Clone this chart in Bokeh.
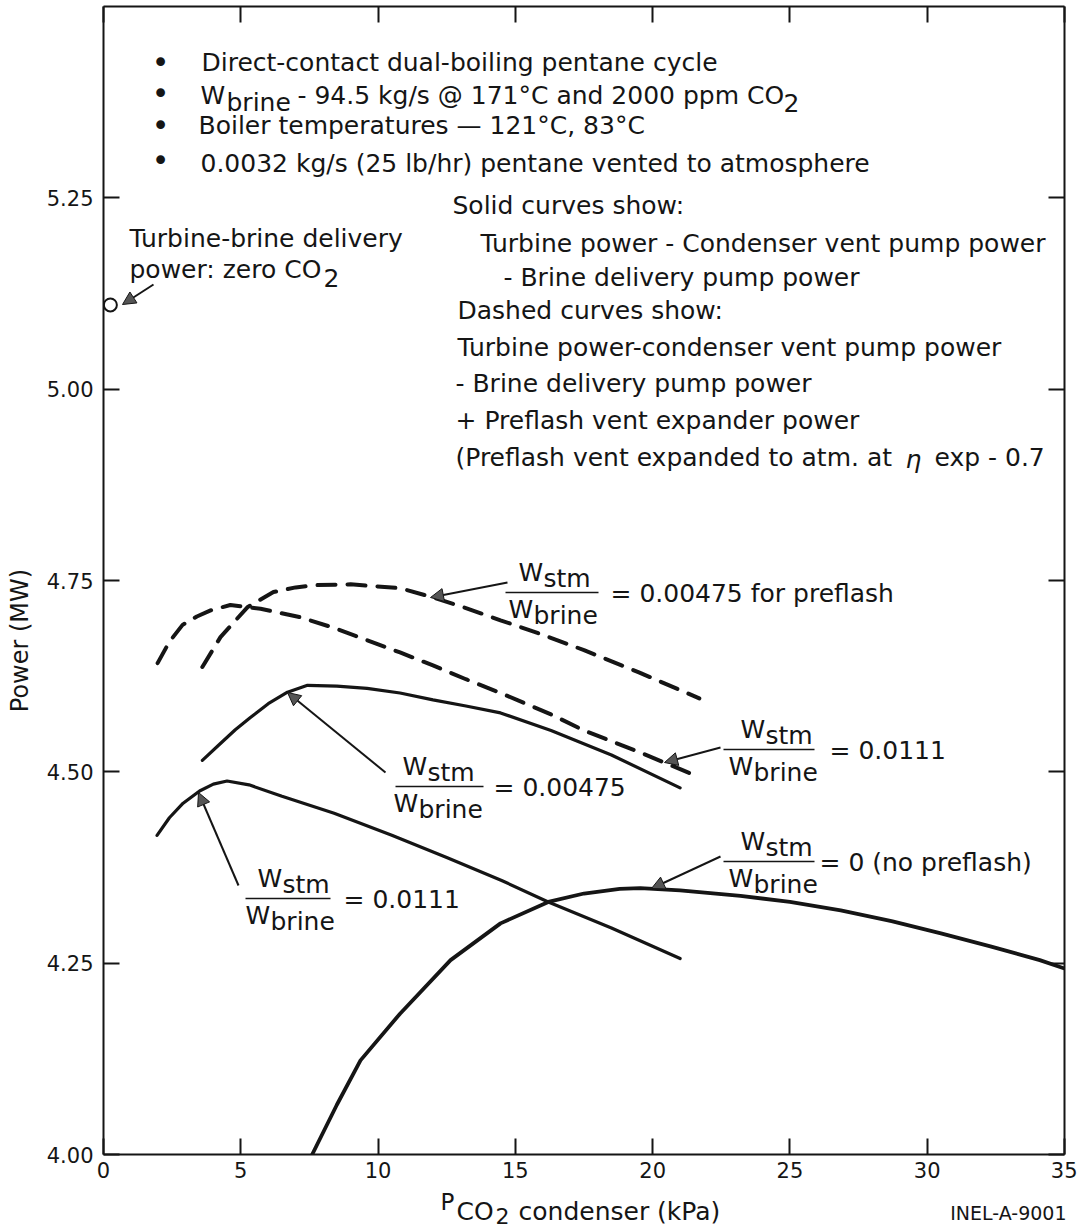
import math
from bokeh.plotting import figure
from bokeh.layouts import row, column
from bokeh.models import Range1d, LinearAxis, Label, Arrow, NormalHead, FixedTicker, PrintfTickFormatter
from bokeh.embed import file_html
from bokeh.resources import INLINE

# ---------------- data ----------------
x_ticks = [0, 5, 10, 15, 20, 25, 30, 35]
y_ticks = [4.00, 4.25, 4.50, 4.75, 5.00, 5.25]

# solid: W_stm/W_brine = 0.0111
sol_0111_x = [1.95, 2.4, 2.9, 3.5, 4.0, 4.5, 5.3, 6.5, 8.4, 10.5, 12.5, 14.5, 16.2, 18.5, 21.0]
sol_0111_y = [4.417, 4.440, 4.459, 4.475, 4.484, 4.488, 4.483, 4.468, 4.446, 4.417, 4.388, 4.358, 4.330, 4.296, 4.256]

# solid: W_stm/W_brine = 0 (no preflash)
sol_0_x = [7.6, 8.5, 9.36, 10.8, 12.64, 14.46, 16.2, 17.5, 18.8, 19.55, 21.0, 23.2, 25.0, 26.85, 28.7, 30.5, 32.3, 34.1, 35.0]
sol_0_y = [4.0, 4.065, 4.123, 4.184, 4.254, 4.302, 4.330, 4.341, 4.347, 4.348, 4.345, 4.338, 4.330, 4.319, 4.305, 4.289, 4.272, 4.254, 4.243]

# solid: W_stm/W_brine = 0.00475
sol_00475_x = [3.6, 4.2, 4.8, 5.35, 6.0, 6.7, 7.43, 8.5, 9.6, 10.8, 12.0, 13.2, 14.46, 16.3, 18.5, 21.0]
sol_00475_y = [4.515, 4.535, 4.555, 4.571, 4.589, 4.604, 4.613, 4.612, 4.609, 4.603, 4.594, 4.586, 4.577, 4.554, 4.522, 4.479]

# dashed: W_stm/W_brine = 0.0111 (with preflash expander)
dash_0111_x = [1.97, 2.4, 2.88, 3.4, 3.9, 4.62, 5.72, 7.17, 8.4, 9.6, 10.8, 12.0, 13.2, 14.46, 16.3, 17.5, 19.5, 21.7]
dash_0111_y = [4.642, 4.670, 4.692, 4.703, 4.711, 4.718, 4.713, 4.702, 4.688, 4.672, 4.656, 4.639, 4.621, 4.603, 4.575, 4.554, 4.526, 4.493]

# dashed: W_stm/W_brine = 0.00475 for preflash
dash_00475_x = [3.6, 4.26, 5.24, 6.19, 7.0, 7.79, 9.0, 10.8, 12.0, 13.2, 14.46, 16.0, 17.5, 19.5, 21.7]
dash_00475_y = [4.637, 4.676, 4.715, 4.735, 4.741, 4.744, 4.745, 4.740, 4.728, 4.714, 4.698, 4.679, 4.659, 4.630, 4.596]

# turbine-brine delivery power, zero CO2
zero_co2_x = [0.25]
zero_co2_y = [5.11]

# ---------------- layout ----------------
W, H = 1077, 1230
STRIP_W = 40          # left strip holding the y title
MAIN_H = 1186         # main figure height; bottom strip holds the x title
FL, FR, FT, FB = 103, 1064, 6, 1154   # frame edges in page pixels
XMIN, XMAX, YMIN, YMAX = 0, 35, 4.0, 5.5

def X(px):
    return XMIN + (px - FL) / (FR - FL) * (XMAX - XMIN)

def Y(py):
    return YMIN + (FB - py) / (FB - FT) * (YMAX - YMIN)

INK = "#151515"
FONT = "DejaVu Sans"

p = figure(width=W - STRIP_W, height=MAIN_H, output_backend="svg", toolbar_location=None,
           x_range=Range1d(XMIN, XMAX), y_range=Range1d(YMIN, YMAX),
           min_border_left=FL - STRIP_W, min_border_right=W - FR,
           min_border_top=FT, min_border_bottom=MAIN_H - FB,
           x_axis_location=None, y_axis_location=None)
p.grid.visible = False
p.outline_line_color = None
p.background_fill_color = "white"
p.border_fill_color = "white"

def style_axis(ax, ticks, labels=True):
    ax.axis_line_color = INK
    ax.axis_line_width = 2
    ax.major_tick_line_color = INK
    ax.major_tick_line_width = 2
    ax.major_tick_in = 16
    ax.major_tick_out = 0
    ax.minor_tick_line_color = None
    ax.axis_label = None
    if labels:
        ax.major_label_text_font = FONT
        ax.major_label_text_color = INK
        ax.major_label_standoff = 7
    else:
        ax.major_label_overrides = {t: "" for t in ticks}
        ax.major_label_text_font_size = "0px"
        ax.major_label_standoff = 0

xb = LinearAxis(ticker=FixedTicker(ticks=x_ticks))
style_axis(xb, x_ticks)
xb.major_label_text_font_size = "21px"
p.add_layout(xb, "below")

xt = LinearAxis(ticker=FixedTicker(ticks=x_ticks))
style_axis(xt, x_ticks, labels=False)
p.add_layout(xt, "above")

yl = LinearAxis(ticker=FixedTicker(ticks=y_ticks), formatter=PrintfTickFormatter(format="%.2f"))
style_axis(yl, y_ticks)
yl.major_label_text_font_size = "21px"
yl.major_label_standoff = 10
p.add_layout(yl, "left")

yr = LinearAxis(ticker=FixedTicker(ticks=y_ticks))
style_axis(yr, y_ticks, labels=False)
p.add_layout(yr, "right")

# ---------------- curves ----------------
p.line(sol_0111_x, sol_0111_y, line_color=INK, line_width=3.2, line_cap="round")
p.line(sol_0_x, sol_0_y, line_color=INK, line_width=3.8, line_cap="round")
p.line(sol_00475_x, sol_00475_y, line_color=INK, line_width=3.2, line_cap="round")
p.line(dash_0111_x, dash_0111_y, line_color=INK, line_width=4, line_dash="18 12", line_cap="round")
p.line(dash_00475_x, dash_00475_y, line_color=INK, line_width=4, line_dash="18 12", line_cap="round")
p.scatter(zero_co2_x, zero_co2_y, marker="circle", size=13, fill_color="white",
          line_color=INK, line_width=2)

# ---------------- text helpers ----------------
def lab(text, px, py, size=25, align="left", italic=False, angle=0.0, target=None, conv=None):
    fig = target if target is not None else p
    if conv is None:
        x, y = X(px), Y(py)
    else:
        x, y = conv(px, py)
    fig.add_layout(Label(x=x, y=y, text=text, text_font=FONT,
                         text_font_size=f"{size}px", text_color=INK,
                         text_align=align, text_baseline="middle",
                         text_font_style="italic" if italic else "normal",
                         angle=angle))

def arrow(px0, py0, px1, py1):
    p.add_layout(Arrow(x_start=X(px0), y_start=Y(py0), x_end=X(px1), y_end=Y(py1),
                       line_color=INK, line_width=2,
                       end=NormalHead(size=13, fill_color="#555555",
                                      line_color=INK, line_width=1)))

def hline(px0, px1, py):
    p.add_layout(Arrow(x_start=X(px0), y_start=Y(py), x_end=X(px1), y_end=Y(py),
                       line_color=INK, line_width=1.5, end=None))

def frac(line_x0, line_x1, line_y, num_x, den_x, suffix, suffix_x):
    lab("W", num_x, line_y - 20)
    lab("stm", num_x + 25, line_y - 14)
    hline(line_x0, line_x1, line_y)
    lab("W", den_x, line_y + 17)
    lab("brine", den_x + 25, line_y + 23)
    lab(suffix, suffix_x, line_y + 1)

# bullets block
for by in (62, 93, 125, 160):
    lab("\u2022", 160, by, size=30, align="center")
lab("Direct-contact dual-boiling pentane cycle", 201, 62)
lab("W", 200, 95)
lab("brine", 226, 102)
lab("- 94.5 kg/s @ 171\u00b0C and 2000 ppm CO", 297, 95)
lab("2", 783, 102)
lab("Boiler temperatures \u2014 121\u00b0C, 83\u00b0C", 198, 125)
lab("0.0032 kg/s (25 lb/hr) pentane vented to atmosphere", 200, 163)

# explanation block
lab("Solid curves show:", 452, 205)
lab("Turbine power - Condenser vent pump power", 480, 243)
lab("- Brine delivery pump power", 503, 277)
lab("Dashed curves show:", 457, 310)
lab("Turbine power-condenser vent pump power", 457, 347)
lab("- Brine delivery pump power", 455, 383)
lab("+ Preflash vent expander power", 455, 420)
lab("(Preflash vent expanded to atm. at", 455, 457)
lab("\u03b7", 905, 459, italic=True)
lab("exp - 0.7", 934, 457)

# zero CO2 note
lab("Turbine-brine delivery", 129, 238)
lab("power: zero CO", 129, 269)
lab("2", 323, 277)
arrow(153, 284, 122, 304)

# curve annotations
frac(505, 598, 592, 518, 508, "= 0.00475 for preflash", 610)
arrow(507, 582, 430, 597)

frac(395, 483, 786, 402, 393, "= 0.00475", 493)
arrow(385, 772, 287, 692)

frac(723, 814, 749, 740, 728, "= 0.0111", 829)
arrow(720, 747, 664, 762)

frac(723, 814, 861, 740, 728, "= 0 (no preflash)", 819)
arrow(720, 856, 651, 888)

frac(245, 330, 898, 257, 245, "= 0.0111", 343)
arrow(238, 885, 198, 792)

# ---------------- strips for the axis titles ----------------
def strip(w, h):
    f = figure(width=w, height=h, output_backend="svg", toolbar_location=None,
               x_range=Range1d(0, w), y_range=Range1d(0, h),
               min_border=0, x_axis_location=None, y_axis_location=None)
    f.grid.visible = False
    f.outline_line_color = None
    f.background_fill_color = "white"
    f.border_fill_color = "white"
    return f

left = strip(STRIP_W, MAIN_H)
left_conv = lambda px, py: (px, MAIN_H - py)
lab("Power (MW)", 19, 655, size=24, align="center", angle=math.pi / 2,
    target=left, conv=left_conv)

BOT_H = H - MAIN_H
bottom = strip(W, BOT_H)
bot_conv = lambda px, py: (px, H - py)
lab("P", 440, 1201, size=23, target=bottom, conv=bot_conv)
lab("CO", 456, 1211, target=bottom, conv=bot_conv)
lab("2", 495, 1215, size=22, target=bottom, conv=bot_conv)
lab("condenser (kPa)", 518, 1211, target=bottom, conv=bot_conv)
lab("INEL-A-9001", 1066, 1212, size=19, align="right", target=bottom, conv=bot_conv)

layout = column(row(left, p, spacing=0), bottom, spacing=0)

open("out.html", "w").write(file_html(layout, INLINE))
